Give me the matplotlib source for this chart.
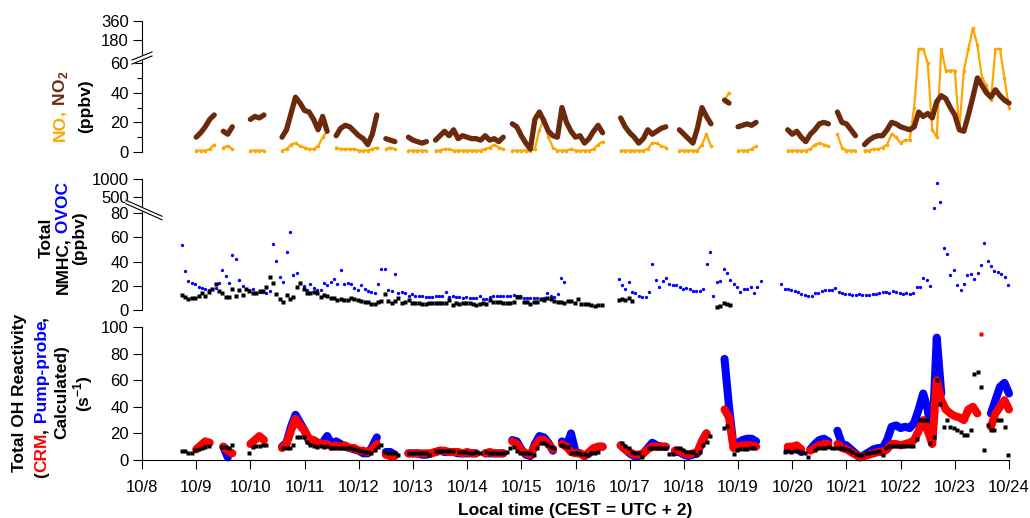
import numpy as np
import matplotlib.pyplot as plt
from matplotlib.ticker import FixedLocator

# ---------------- data (days since 10/8 00:00 local) ----------------
DAY_LABELS = ['10/8', '10/9', '10/10', '10/11', '10/12', '10/13', '10/14', '10/15', '10/16',
              '10/17', '10/18', '10/19', '10/20', '10/21', '10/22', '10/23', '10/24']

# dense instruments, 2-h grid: index j -> day j/12
DENSE_STEP_H = 2.0
NOX_START = [12, 18, 24, 31, 43, 48, 54, 59, 65, 71, 76, 82, 87, 93, 98, 106, 112, 119, 124,
             129, 132, 143, 148, 154, 160]
NO2_SEGS = [
    [10, 13, 17, 22, 25], [14, 12, 17], [22, 24, 23, 25],
    [10, 15, 26, 37, 33, 28, 27, 22, 15, 24, 14], [11, 16, 18, 17, 14], [11, 9, 5, 12, 25],
    [9, 8, 7], [10, 8, 7, 6, 7], [8, 11, 14, 11, 15, 9], [11, 10, 9, 9, 8], [11, 8, 9, 7, 10],
    [19, 17, 11, 6, 2], [22, 27, 21, 14, 11, 10], [30, 20, 14, 10, 11], [6, 9, 14, 18, 13],
    [23, 17, 13, 10, 6, 9], [15, 12, 14, 16, 17], [15, 12, 9, 6, 16], [30, 24, 19], [35, 33],
    [17, 18, 19, 18, 20], [15, 12, 14, 10, 7], [12, 15, 19, 20, 19], [27, 20, 19, 15, 11],
    [5, 8, 10, 11, 11, 15, 20, 19, 17, 16, 15, 17, 27, 24, 26, 23, 34, 38, 36, 30, 25, 15, 14,
     25, 37, 50, 45, 40, 37, 42, 38, 35, 33],
]
NO_SEGS = [
    [1, 1, 1, 2, 5], [3, 4, 2], [1, 1, 1, 1],
    [1, 2, 5, 6, 4, 3, 2, 2, 4, 10, 14], [3, 2, 2, 2, 2], [1, 1, 1, 2, 3],
    [2, 3, 2], [1, 1, 1, 1, 1], [1, 1, 2, 2, 1, 1], [1, 1, 1, 1, 1], [2, 3, 5, 3, 2],
    [1, 1, 1, 1, 1], [2, 15, 22, 10, 3, 1], [1, 1, 2, 1, 1], [1, 1, 2, 5, 7],
    [1, 1, 1, 1, 1, 1], [2, 6, 6, 4, 3], [1, 1, 1, 1, 1], [5, 12, 4], [35, 40],
    [1, 1, 1, 2, 4], [1, 1, 1, 1, 1], [2, 5, 6, 5, 4], [12, 3, 1, 1, 1],
    [1, 1, 2, 2, 3, 5, 12, 10, 6, 8, 8, 30, 130, 130, 60, 15, 10, 130, 55, 55, 55, 15, 55,
     130, 280, 150, 50, 45, 35, 130, 130, 50, 30],
]

CRM_START = [12, 18, 24, 31, 43, 54, 59, 65, 70, 76, 82, 87, 93, 98, 106, 112, 118, 124, 129,
             131, 143, 148, 154, 159, 165, 176, 188]
CRM_SEGS = [
    [8, 11, 14, 13], [10, 7, 5], [12, 15, 18, 15],
    [9, 12, 22, 31, 26, 22, 16, 15, 13, 12, 12, 10], [11, 10, 11, 9, 9, 7, 7, 6, 8, 12],
    [4, 3, 3], [5, 5, 5, 5, 5, 5], [6, 7, 7, 6, 6], [6, 5, 6, 5, 5], [5, 6, 5, 5, 5],
    [14, 12, 7, 5, 4], [10, 15, 15, 12, 8], [12, 10, 6, 5, 5], [3, 6, 9, 10, 10],
    [11, 8, 6, 4, 4, 5], [8, 10, 10, 10, 10], [7, 7, 5, 4, 5, 6], [14, 20], [38, 32],
    [9, 10, 11, 11, 11, 10], [10, 10, 11, 8], [7, 9, 11, 12, 12], [12, 9, 8, 6, 4],
    [2, 3, 4, 5, 6, 6], [8, 12, 12, 11, 12, 13, 15, 22, 30, 22, 12],
    [60, 45, 38, 35, 33, 32, 30, 38, 40, 35], [25, 35, 40, 45, 38],
]
CRM_OUTLIER_DAY = [15.49]
CRM_OUTLIER_VAL = [95]

PP_START = [18, 31, 43, 54, 59, 65, 70, 76, 82, 87, 93, 98, 106, 112, 118, 124, 129, 131,
            143, 148, 154, 159, 165, 176, 188]
PP_SEGS = [
    [10, 2], [10, 13, 25, 34, 28, 22, 14, 14, 12, 13, 18, 12],
    [14, 12, 10, 9, 8, 7, 5, 5, 10, 17], [6, 6, 4], [5, 5, 5, 4, 4, 5], [6, 7, 6, 6, 6],
    [5, 5, 5, 5, 5], [5, 5, 5, 5, 5], [15, 14, 8, 4, 3], [12, 18, 17, 13, 7],
    [14, 10, 20, 6, 5], [3, 5, 8, 10, 10], [11, 8, 5, 3, 3, 5], [9, 13, 11, 10, 10],
    [6, 6, 4, 3, 4, 5], [14, 20], [76, 40], [10, 13, 15, 16, 16, 14], [8, 8, 9, 6],
    [8, 12, 15, 16, 14], [22, 12, 11, 8, 5], [2, 4, 6, 8, 9, 9],
    [15, 25, 26, 24, 25, 24, 28, 38, 50, 38, 15], [92, 50], [35, 45, 55, 58, 50],
]

# GC instrument, 1.5-h grid starting 10/8 17:34: index k -> day GC_T0 + k*1.5/24
GC_T0 = 0.732
GC_STEP_H = 1.5
NMHC_START = [0, 129, 158]
NMHC_SEGS = [
    [12.4, 11.0, 8.8, 9.9, 9.9, 11.3, 13.7, 11.3, 14.6, 17.0, 21.4, 15.9, 13.7, 10.4, 10.4,
     17.3, 11.5, 16.5, 12.1, 17.0, 15.9, 14.0, 14.0, 15.9, 15.4, 18.7, 26.9, 22.0, 13.2, 8.8,
     6.3, 12.1, 8.8, 11.0, 19.2, 22.0, 17.0, 13.7, 14.3, 14.8, 13.7, 10.4, 12.1, 11.5, 9.9,
     9.6, 8.2, 9.3, 8.0, 8.5, 9.6, 9.3, 8.2, 7.4, 6.6, 6.3, 5.2, 5.2, 6.3, 7.1, 13.5, 7.1,
     6.0, 7.4, 9.6, 5.5, 6.3, 8.2, 5.8, 6.0, 6.0, 4.9, 4.9, 6.0, 5.8, 5.8, 6.0, 6.0, 6.0,
     8.2, 4.4, 5.5, 4.7, 5.8, 5.5, 5.5, 5.2, 4.4, 4.7, 6.0, 5.2, 8.2, 6.3, 6.3, 6.3, 5.8,
     5.8, 5.8, 6.3, 10.4, 10.4, 6.9, 6.3, 4.9, 6.9, 6.6, 9.3, 8.2, 9.6, 8.8, 7.4, 6.3, 6.3,
     5.5, 7.7, 7.1, 5.5, 8.8, 4.7, 4.9, 4.9, 4.1, 3.6, 3.8, 3.8],
    [8.2, 8.8, 8.5, 9.6, 7.7],
    [2.2, 3.6, 5.5, 4.7, 3.8],
]
OVOC_START = [0, 129, 177]
OVOC_SEGS = [
    [54, 32, 24, 22.5, 21.7, 19, 18, 17.3, 16.5, 17.3, 18, 22, 33, 28, 22.5, 45.6, 41.8,
     24.7, 19.8, 17.6, 16.5, 17.6, 14.3, 15, 15, 14.3, 15.4, 54.4, 40.4, 27, 23, 48, 64,
     28.6, 30.5, 22, 19.8, 16.5, 21.2, 18, 16.5, 16.5, 22, 20.6, 22.8, 25.6, 21.2, 32.7,
     21.7, 22.5, 21.7, 18, 16.5, 20.3, 17.3, 16, 14.8, 14, 21.4, 33.5, 34, 16.5, 15.7, 29.4,
     14, 15, 13.7, 11.5, 13.2, 11.5, 11.5, 11.5, 10.7, 11, 11, 11.5, 11.5, 11.5, 14.8, 11,
     11.5, 10.4, 10.4, 10.2, 10.7, 9.9, 9.9, 10.2, 11.3, 9.3, 9.3, 10.4, 11.3, 11.8, 11.5,
     11.5, 11.3, 11.5, 12.6, 11.8, 11.5, 10.2, 10.2, 10.2, 10.2, 9.6, 9.3, 9.6, 13.7, 11.5,
     11, 12.9, 26.7, 22.8],
    [25.6, 20.9, 17.6, 23.4, 15.1, 14.0, 11.5, 11.0, 11.0, 15.1, 38.2, 25.0, 18.7, 24.2,
     26.1, 21.4, 20.6, 20.3, 18.7, 17.3, 18.4, 17.0, 15.4, 15.4, 15.4, 17.3, 37.7, 47.8,
     11.5, 23.1, 23.9, 34.1, 30.2, 24.7, 21.7, 18.7, 15.1, 17.3, 17.6, 19.0, 14.3, 18.7,
     24.2],
    [21.2, 17.6, 17.3, 16.2, 15.4, 14.8, 13.5, 12.6, 11.8, 11.3, 13.7, 13.7, 15.9, 16.2,
     16.2, 16.2, 17.9, 15.1, 14, 13.5, 12.9, 12.6, 12.6, 13.2, 12.4, 12.1, 12.1, 12.9, 13.5,
     14, 14.6, 14.6, 14.3, 15.9, 14.8, 14, 13.2, 14.3, 13.5, 14.3, 18.7, 18.7, 26.1, 24.5,
     19.5, 240, 847, 412, 51.4, 46.2, 28.6, 32.7, 20.9, 16.5, 21.2, 28.6, 29.4, 25.8, 30.8,
     37.1, 55, 40.1, 36.3, 31.9, 31.6, 29.4, 27.5, 20.3],
]
CALC_START = [0, 12, 20, 30, 45, 67, 75, 82, 90, 97, 105, 112, 130, 138, 144, 146, 154, 160,
              163, 178, 187, 208, 223, 234]
CALC_SEGS = [
    [6.8, 6.8, 5.0, 5.0, 7.5, 8.5, 9.0, 9.5, 10.5], [10, 10, 9, 11.3],
    [5, 10, 10.5, 10.5, 11.3, 11.3],
    [8.8, 8.8, 9.3, 11.3, 17.5, 17.5, 17, 13.8, 11.3, 10.5, 10, 10.5, 10, 10.5, 8.8],
    [8.8, 9.3, 8.8, 8.8, 8.8, 8.8, 8, 7.5, 6.8, 6.3, 6.3, 5.5, 7.5, 10, 11.3, 6.3, 5, 5, 5,
     3.8],
    [5, 5.5, 5.5, 5.5, 5.5, 5.5, 3.8], [6.8, 6.8, 7, 6.8, 7, 6.8],
    [6.3, 6.3, 6.3, 5.5, 5.5, 6.3, 5.5], [6.3, 5.5, 5, 5.5, 5.5, 5.5, 6.3],
    [8.8, 10, 6.8, 5.5, 5, 5, 5, 3.8], [8.8, 12.5, 12.5, 11.3, 10, 8.8],
    [11.3, 10.5, 10, 5.5, 5, 5, 4.3, 4.3, 3.8, 5, 5, 6.3], [12.5, 10.5, 8.8, 6.3, 5, 5, 2.5],
    [8.8, 8.8, 8.8, 8.8, 8.8, 8.8], [4.3, 4.3], [8.8, 8.8, 7.5, 6.3, 5.8, 6.3, 3.8, 6.3],
    [11.3, 13.8, 18], [23.8, 25.6], [4.3, 7.5, 8, 8, 8.3, 8.8, 9],
    [6.3, 6.8, 6.3, 6.8, 6.8, 6.3, 5, 2.5],
    [7.5, 9.3, 9.3, 9.3, 9.8, 9.3, 9.3, 8.8, 8.8, 8.0, 7.5, 6.3, 4.3, 3.8, 3.8, 5.0, 5.5,
     5.8, 6.0, 6.5, 3.8],
    [8.8, 10.5, 10.5, 10.5, 10.5, 10.5, 10.5, 10.5, 10.5, 15.5, 30, 30, 30, 12.5, 17],
    [60, 42, 25, 30, 25, 24, 22.5, 21, 19, 19, 22.5],
    [65, 66, 55, 7.5, 26, 22.5, 22.5, 30, 30, 25, 3.8],
]

C_NO = '#FFA500'; C_NO2 = '#6B2A0B'; C_BLUE = '#0000FF'; C_RED = '#FF0000'; C_BLACK = '#000000'


def build(starts, segs, n):
    arr = np.full(n, np.nan)
    for s, seg in zip(starts, segs):
        arr[s:s + len(seg)] = seg
    return arr


N_DENSE = 193
t_dense = np.arange(N_DENSE) * DENSE_STEP_H / 24.0
no2 = build(NOX_START, NO2_SEGS, N_DENSE)
no = build(NOX_START, NO_SEGS, N_DENSE)
crm = build(CRM_START, CRM_SEGS, N_DENSE)
pp = build(PP_START, PP_SEGS, N_DENSE)
N_GC = 245
t_gc = GC_T0 + np.arange(N_GC) * GC_STEP_H / 24.0
nmhc = build(NMHC_START, NMHC_SEGS, N_GC)
ovoc = build(OVOC_START, OVOC_SEGS, N_GC)
calc = build(CALC_START, CALC_SEGS, N_GC)


# ---------------- broken-axis scales (value -> pixel height) ----------------
def top_fwd(v):
    v = np.asarray(v, float)
    with np.errstate(all='ignore'):
        up = 96 + 19 * np.log2(np.maximum(v, 1e-6) / 100)
    return np.where(v <= 62, v * 1.483, np.where(v < 100, 92 + (v - 62) / 38 * 4, up))


def top_inv(p):
    p = np.asarray(p, float)
    with np.errstate(all='ignore'):
        up = 100 * 2 ** ((np.minimum(p, 400) - 96) / 19)
    return np.where(p <= 92, p / 1.483, np.where(p < 96, 62 + (p - 92) / 4 * 38, up))


def mid_fwd(v):
    v = np.asarray(v, float)
    with np.errstate(all='ignore'):
        up = 113 + 18 * np.log2(np.maximum(v, 1e-6) / 500)
    return np.where(v <= 82, v * 1.2125, np.where(v < 350, 99.4 + (v - 82) / 268 * 4.34, up))


def mid_inv(p):
    p = np.asarray(p, float)
    with np.errstate(all='ignore'):
        up = 500 * 2 ** ((np.minimum(p, 400) - 113) / 18)
    return np.where(p <= 99.4, p / 1.2125, np.where(p < 103.74, 82 + (p - 99.4) / 4.34 * 268, up))


# ---------------- figure ----------------
plt.rcParams.update({
    'font.family': 'Liberation Sans', 'font.size': 12,
    'mathtext.fontset': 'custom', 'mathtext.rm': 'Liberation Sans',
    'mathtext.bf': 'Liberation Sans:bold',
    'axes.linewidth': 0.8, 'xtick.major.width': 0.8, 'ytick.major.width': 0.8,
    'ytick.minor.width': 0.8,
})
W, H = 1030, 518
fig = plt.figure(figsize=(W / 100, H / 100), dpi=100, facecolor='white')
L = 142 / W; AW = (1009 - 142) / W
ax1 = fig.add_axes([L, (H - 152) / H, AW, 131 / H])
ax2 = fig.add_axes([L, (H - 310) / H, AW, 131 / H])
ax3 = fig.add_axes([L, (H - 460) / H, AW, 133 / H])

for ax in (ax1, ax2, ax3):
    ax.set_xlim(0, 16)
    for s in ('top', 'right'):
        ax.spines[s].set_visible(False)
    ax.tick_params(axis='y', direction='out', length=6.5, pad=3, labelsize=12)
    ax.tick_params(axis='y', which='minor', length=3.5)
    ax.patch.set_alpha(0)
for ax in (ax1, ax2):
    ax.spines['bottom'].set_visible(False)
    ax.set_xticks([])

band = dict(solid_capstyle='round', solid_joinstyle='round', clip_on=False)

# top panel: NO / NO2
ax1.set_yscale('function', functions=(top_fwd, top_inv))
ax1.set_ylim(0, 360)
ax1.plot(t_dense, no, color=C_NO, lw=1.6, marker='o', ms=2.6, mec='none', **band)
ax1.plot(t_dense, no2, color=C_NO2, lw=3.8, **band)
ax1.yaxis.set_major_locator(FixedLocator([0, 20, 40, 60, 180, 360]))
ax1.yaxis.set_minor_locator(FixedLocator([10, 30, 50]))
ax1.set_yticklabels(['0', '20', '40', '60', '180', '360'])

# middle panel: NMHC / OVOC
ax2.set_yscale('function', functions=(mid_fwd, mid_inv))
ax2.set_ylim(0, 1000)
ax2.plot(t_gc, ovoc, 'o', color=C_BLUE, ms=2.4, mec='none', clip_on=False)
ax2.plot(t_gc, nmhc, 's', color=C_BLACK, ms=2.2, mec='none', clip_on=False)
ax2.yaxis.set_major_locator(FixedLocator([0, 20, 40, 60, 80, 500, 1000]))
ax2.yaxis.set_minor_locator(FixedLocator([]))
ax2.set_yticklabels(['0', '20', '40', '60', '80', '500', '1000'])

# bottom panel: OH reactivity
ax3.set_ylim(0, 100)
ax3.plot(t_dense, pp, color=C_BLUE, lw=5.8, **band)
ax3.plot(t_dense, crm, color=C_RED, lw=5.8, **band)
ax3.plot(CRM_OUTLIER_DAY, CRM_OUTLIER_VAL, 's', color=C_RED, ms=2.5, mec='none')
ax3.plot(t_gc, calc, 's', color=C_BLACK, ms=2.2, mec='none', clip_on=False)
ax3.set_yticks([0, 20, 40, 60, 80, 100])
ax3.set_xticks(np.arange(len(DAY_LABELS)))
ax3.set_xticklabels(DAY_LABELS)
ax3.tick_params(axis='x', direction='out', length=6.5, pad=8, labelsize=12)
ax3.set_xlabel('Local time (CEST = UTC + 2)', fontsize=12.5, fontweight='bold', labelpad=6)


# broken-axis marks (pixel offsets from the spine at a given pixel height)
def axis_break(ax, h_px, dx0, dy0, dx1, dy1, gap):
    pos = ax.get_position()
    ax_h, ax_w = pos.height * H, pos.width * W
    x0, x1 = dx0 / ax_w, dx1 / ax_w
    y = h_px / ax_h
    y0a, y1a = y + dy0 / ax_h, y + dy1 / ax_h
    g = gap / ax_h
    ax.fill([x0, x1, x1, x0], [y0a - g / 2, y1a - g / 2, y1a + g / 2, y0a + g / 2],
            color='white', transform=ax.transAxes, clip_on=False, zorder=5)
    for off in (-g / 2, g / 2):
        ax.plot([x0, x1], [y0a + off, y1a + off], color='black', lw=0.8,
                transform=ax.transAxes, clip_on=False, zorder=6)


axis_break(ax1, 94, -10, -4, 10, 4, 4)
axis_break(ax2, 101, -16, 7, 20, -9, 3.5)

# multi-coloured rotated y labels: each piece ends where the cumulative string ends
renderer = fig.canvas.get_renderer()
LBL = dict(rotation=90, ha='center', fontweight='bold')


def text_len(s, size):
    t = fig.text(0, 0, s, fontsize=size, **LBL)
    h = t.get_window_extent(renderer).height
    t.remove()
    return h


def vlabel(x_px, yc_px, pieces, size=12.5):
    full = ''.join(s for s, _ in pieces)
    y0 = (H - yc_px) - text_len(full, size) / 2
    cum = ''
    for s, c in pieces:
        cum += s
        top = y0 + text_len(cum, size)
        fig.text(x_px / W, top / H, s, color=c, va='top', fontsize=size, **LBL)


vlabel(60, 106, [('NO', C_NO), (',', C_NO), (r' NO$_\mathbf{2}$', C_NO2)])
vlabel(86, 106, [('(ppbv)', C_BLACK)])
vlabel(46, 238, [('Total', C_BLACK)])
vlabel(63, 238, [('NMHC,', C_BLACK), (' OVOC', C_BLUE)])
vlabel(80, 238, [('(ppbv)', C_BLACK)])
vlabel(20, 393, [('Total OH Reactivity', C_BLACK)])
vlabel(42, 397, [('(', C_BLACK), ('CRM', C_RED), (',', C_BLACK), (' Pump-probe', C_BLUE),
                 (',', C_BLACK)])
vlabel(62, 392, [('Calculated)', C_BLACK)])
vlabel(83, 394, [(r'(s$^{\mathbf{-1}}$)', C_BLACK)])

fig.savefig('out.png', dpi=100, facecolor='white')
